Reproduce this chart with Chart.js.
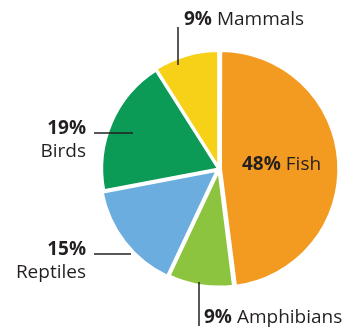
<!DOCTYPE html>
<html>
<head>
<meta charset="utf-8">
<script src="https://cdn.jsdelivr.net/npm/chart.js@4"></script>
<style>
  html, body { margin: 0; padding: 0; background: #fff; }
  #wrap { width: 358px; height: 330px; }
</style>
</head>
<body>
<div id="wrap"><canvas id="pie"></canvas></div>
<script>
const groups = ['Fish', 'Amphibians', 'Reptiles', 'Birds', 'Mammals'];
const shares = [48, 9, 15, 19, 9];
const colours = ['#f39a20', '#8cc43f', '#6badde', '#0c9a57', '#f7d118'];
const offsets = [6, 3, 8, 1, 4];

// label layout, px relative to the pie centre
const labelLayout = {
  Fish:       { text: [23, -4], align: 'left' },
  Amphibians: { text: [-15, 149], align: 'left', line: [[-20, 113], [-20, 157]] },
  Reptiles:   { text: [-133, 81], align: 'right', twoLine: true, line: [[-125, 85], [-88, 85]] },
  Birds:      { text: [-133, -40], align: 'right', twoLine: true, line: [[-125, -36], [-86, -36]] },
  Mammals:    { text: [-35, -149], align: 'left', line: [[-41, -142], [-41, -104]] }
};

const FONT = '"Open Sans", sans-serif';
const SIZE = 19;

const labelPlugin = {
  id: 'pieLabels',
  afterDraw(chart) {
    const ctx = chart.ctx;
    const cx = chart.chartArea.left + chart.chartArea.width / 2;
    const cy = chart.chartArea.top + chart.chartArea.height / 2;
    ctx.save();
    ctx.fillStyle = '#231f20';
    ctx.strokeStyle = '#231f20';
    ctx.lineWidth = 1.5;
    ctx.textBaseline = 'middle';
    groups.forEach((g, i) => {
      const l = labelLayout[g];
      const pct = shares[i] + '%';
      if (l.line) {
        ctx.beginPath();
        ctx.moveTo(cx + l.line[0][0], cy + l.line[0][1]);
        ctx.lineTo(cx + l.line[1][0], cy + l.line[1][1]);
        ctx.stroke();
      }
      const x = cx + l.text[0];
      const y = cy + l.text[1];
      if (l.twoLine) {
        ctx.textAlign = 'right';
        ctx.font = 'bold ' + SIZE + 'px ' + FONT;
        ctx.fillText(pct, x, y);
        ctx.font = SIZE + 'px ' + FONT;
        ctx.fillText(g, x, y + 23);
      } else {
        ctx.textAlign = 'left';
        ctx.font = 'bold ' + SIZE + 'px ' + FONT;
        ctx.fillText(pct, x, y);
        const w = ctx.measureText(pct + ' ').width;
        ctx.font = SIZE + 'px ' + FONT;
        ctx.fillText(g, x + w, y);
      }
    });
    ctx.restore();
  }
};

new Chart(document.getElementById('pie'), {
  type: 'pie',
  data: {
    labels: groups,
    datasets: [{
      data: shares,
      backgroundColor: colours,
      borderColor: '#ffffff',
      borderWidth: 3,
      offset: offsets
    }]
  },
  options: {
    responsive: true,
    maintainAspectRatio: false,
    animation: false,
    radius: 117,
    layout: { padding: { left: 90, right: 10, top: 18, bottom: 10 } },
    plugins: {
      legend: { display: false },
      tooltip: { enabled: false }
    }
  },
  plugins: [labelPlugin]
});
</script>
</body>
</html>
